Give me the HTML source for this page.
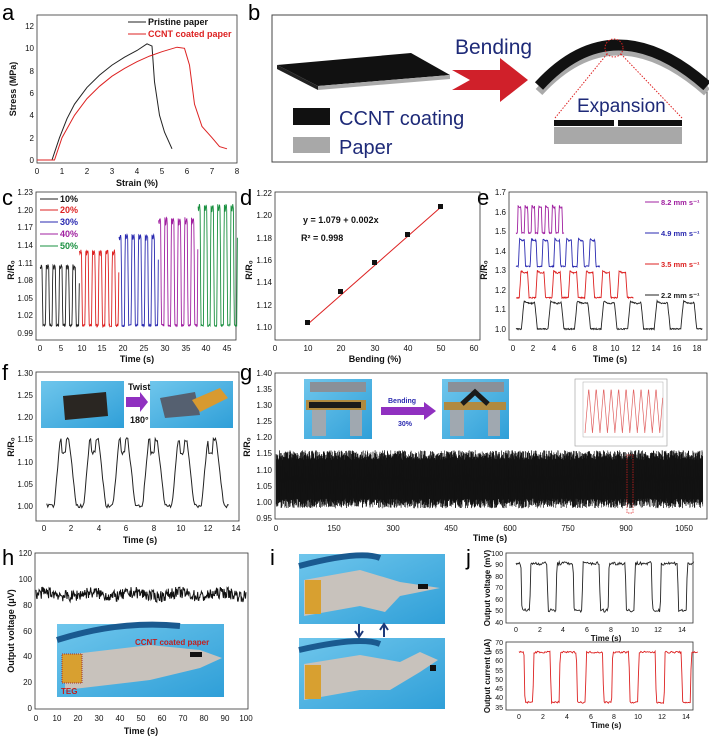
<!DOCTYPE html>
<html><head><meta charset="utf-8"><style>
html,body{margin:0;padding:0;background:#fff}
svg{display:block;font-family:"Liberation Sans",sans-serif}
.t{font-size:8px;fill:#111}
.al{font-size:9px;font-weight:bold;fill:#111}
.pl{font-size:22px;fill:#000}
.fr{fill:none;stroke:#333;stroke-width:0.8}
</style></head><body>
<svg id="s" width="709" height="738" viewBox="0 0 709 738" xmlns="http://www.w3.org/2000/svg">
<rect width="709" height="738" fill="#fff"/>
<text class="pl" x="2" y="20">a</text>
<text class="pl" x="248" y="20">b</text>
<text class="pl" x="2" y="205">c</text>
<text class="pl" x="240" y="205">d</text>
<text class="pl" x="477" y="205">e</text>
<text class="pl" x="2" y="380">f</text>
<text class="pl" x="240" y="380">g</text>
<text class="pl" x="2" y="565">h</text>
<text class="pl" x="270" y="565">i</text>
<text class="pl" x="466" y="565">j</text>

<!-- a -->
<rect class="fr" x="37" y="15" width="200" height="148"/>
<g class="t" text-anchor="end">
<text x="34" y="163">0</text><text x="34" y="141">2</text><text x="34" y="118">4</text><text x="34" y="96">6</text><text x="34" y="74">8</text><text x="34" y="51">10</text><text x="34" y="29">12</text></g>
<g class="t" text-anchor="middle">
<text x="37" y="174">0</text><text x="62" y="174">1</text><text x="87" y="174">2</text><text x="112" y="174">3</text><text x="137" y="174">4</text><text x="162" y="174">5</text><text x="187" y="174">6</text><text x="212" y="174">7</text><text x="237" y="174">8</text></g>
<text class="al" x="137" y="186" text-anchor="middle">Strain (%)</text>
<text class="al" transform="translate(16,89) rotate(-90)" text-anchor="middle">Stress (MPa)</text>
<line x1="128" y1="22" x2="146" y2="22" stroke="#222"/><text class="al" x="148" y="25">Pristine paper</text>
<line x1="128" y1="34" x2="146" y2="34" stroke="#d22"/><text class="al" x="148" y="37" style="fill:#d22">CCNT coated paper</text>
<path id="pa1" fill="none" stroke="#222" stroke-width="1"/>
<path id="pa2" fill="none" stroke="#d22" stroke-width="1"/>

<!-- b -->
<rect x="272" y="15" width="435" height="147" fill="#fff" stroke="#444" stroke-width="1"/>
<polygon points="277,65 411,53 450,75 318,86" fill="#111"/>
<polygon points="277,65 318,86 318,90 277,69" fill="#222"/>
<polygon points="318,86 450,75 450,79 318,90" fill="#aaa"/>
<polygon points="452,70 500,70 500,58 528,80 500,102 500,90 452,90 470,80" fill="#d0202a"/>
<text x="455" y="54" style="font-size:21px;fill:#1e2a78">Bending</text>
<path d="M539,92 Q614,10 707,92" fill="none" stroke="#aaa" stroke-width="9"/>
<path d="M539,86 Q614,4 707,86" fill="none" stroke="#111" stroke-width="11"/>
<circle cx="614" cy="48" r="9" fill="none" stroke="#d22" stroke-dasharray="1.5,1.5"/>
<line x1="607" y1="54" x2="555" y2="118" stroke="#d22" stroke-dasharray="1.5,1.5"/>
<line x1="621" y1="54" x2="682" y2="118" stroke="#d22" stroke-dasharray="1.5,1.5"/>
<text x="577" y="112" style="font-size:19px;fill:#1e2a78">Expansion</text>
<rect x="554" y="120" width="60" height="6" fill="#111"/><rect x="618" y="120" width="64" height="6" fill="#111"/>
<rect x="554" y="127" width="128" height="17" fill="#a8a8a8"/>
<rect x="293" y="108" width="37" height="17" fill="#111"/>
<text x="339" y="125" style="font-size:20px;fill:#1e2a78">CCNT coating</text>
<rect x="293" y="137" width="37" height="16" fill="#a8a8a8"/>
<text x="339" y="154" style="font-size:20px;fill:#1e2a78">Paper</text>

<!-- c -->
<rect class="fr" x="36" y="192" width="200" height="148"/>
<g class="t" text-anchor="end">
<text x="33" y="195">1.23</text><text x="33" y="213">1.20</text><text x="33" y="230">1.17</text><text x="33" y="248">1.14</text><text x="33" y="266">1.11</text><text x="33" y="283">1.08</text><text x="33" y="301">1.05</text><text x="33" y="318">1.02</text><text x="33" y="336">0.99</text></g>
<g class="t" text-anchor="middle">
<text x="40" y="351">0</text><text x="61" y="351">5</text><text x="82" y="351">10</text><text x="102" y="351">15</text><text x="123" y="351">20</text><text x="144" y="351">25</text><text x="165" y="351">30</text><text x="186" y="351">35</text><text x="206" y="351">40</text><text x="227" y="351">45</text></g>
<text class="al" x="137" y="362" text-anchor="middle">Time (s)</text>
<text class="al" transform="translate(14,270) rotate(-90)" text-anchor="middle">R/R₀</text>
<g class="al"><line x1="40" y1="199" x2="58" y2="199" stroke="#222"/><text x="60" y="202">10%</text>
<line x1="40" y1="210" x2="58" y2="210" stroke="#d22"/><text x="60" y="213" style="fill:#d22">20%</text>
<line x1="40" y1="222" x2="58" y2="222" stroke="#2a2ab0"/><text x="60" y="225" style="fill:#2a2ab0">30%</text>
<line x1="40" y1="234" x2="58" y2="234" stroke="#a020a0"/><text x="60" y="237" style="fill:#a020a0">40%</text>
<line x1="40" y1="246" x2="58" y2="246" stroke="#1a9040"/><text x="60" y="249" style="fill:#1a9040">50%</text></g>
<g id="gc"></g>

<!-- d -->
<rect class="fr" x="275" y="192" width="205" height="148"/>
<g class="t" text-anchor="end">
<text x="272" y="196">1.22</text><text x="272" y="218">1.20</text><text x="272" y="241">1.18</text><text x="272" y="263">1.16</text><text x="272" y="285">1.14</text><text x="272" y="308">1.12</text><text x="272" y="330">1.10</text></g>
<g class="t" text-anchor="middle">
<text x="275" y="351">0</text><text x="308" y="351">10</text><text x="341" y="351">20</text><text x="375" y="351">30</text><text x="408" y="351">40</text><text x="441" y="351">50</text><text x="474" y="351">60</text></g>
<text class="al" x="375" y="362" text-anchor="middle">Bending (%)</text>
<text class="al" transform="translate(252,270) rotate(-90)" text-anchor="middle">R/R₀</text>
<text class="al" x="303" y="223">y = 1.079 + 0.002x</text>
<text class="al" x="301" y="241">R² = 0.998</text>
<line x1="308" y1="324" x2="441" y2="207" stroke="#d22" stroke-width="1"/>
<g fill="#111"><rect x="305" y="320" width="5" height="5"/><rect x="338" y="289" width="5" height="5"/><rect x="372" y="260" width="5" height="5"/><rect x="405" y="232" width="5" height="5"/><rect x="438" y="204" width="5" height="5"/></g>

<!-- e -->
<rect class="fr" x="509" y="192" width="198" height="148"/>
<g class="t" text-anchor="end">
<text x="506" y="195">1.7</text><text x="506" y="215">1.6</text><text x="506" y="234">1.5</text><text x="506" y="254">1.4</text><text x="506" y="273">1.3</text><text x="506" y="293">1.2</text><text x="506" y="312">1.1</text><text x="506" y="332">1.0</text></g>
<g class="t" text-anchor="middle">
<text x="513" y="351">0</text><text x="533" y="351">2</text><text x="554" y="351">4</text><text x="574" y="351">6</text><text x="595" y="351">8</text><text x="615" y="351">10</text><text x="636" y="351">12</text><text x="656" y="351">14</text><text x="677" y="351">16</text><text x="697" y="351">18</text></g>
<text class="al" x="610" y="362" text-anchor="middle">Time (s)</text>
<text class="al" transform="translate(487,270) rotate(-90)" text-anchor="middle">R/R₀</text>
<g class="al" style="font-size:7.5px"><line x1="645" y1="202" x2="659" y2="202" stroke="#a020a0"/><text x="661" y="205" style="fill:#a020a0">8.2 mm s⁻¹</text>
<line x1="645" y1="233" x2="659" y2="233" stroke="#2a2ab0"/><text x="661" y="236" style="fill:#2a2ab0">4.9 mm s⁻¹</text>
<line x1="645" y1="264" x2="659" y2="264" stroke="#d22"/><text x="661" y="267" style="fill:#d22">3.5 mm s⁻¹</text>
<line x1="645" y1="295" x2="659" y2="295" stroke="#222"/><text x="661" y="298" style="fill:#222">2.2 mm s⁻¹</text></g>
<g id="ge"></g>

<!-- f -->
<rect class="fr" x="36" y="372" width="203" height="149"/>
<g class="t" text-anchor="end">
<text x="33" y="376">1.30</text><text x="33" y="398">1.25</text><text x="33" y="420">1.20</text><text x="33" y="442">1.15</text><text x="33" y="465">1.10</text><text x="33" y="487">1.05</text><text x="33" y="509">1.00</text></g>
<g class="t" text-anchor="middle">
<text x="44" y="531">0</text><text x="71" y="531">2</text><text x="99" y="531">4</text><text x="126" y="531">6</text><text x="154" y="531">8</text><text x="181" y="531">10</text><text x="208" y="531">12</text><text x="236" y="531">14</text></g>
<text class="al" x="140" y="543" text-anchor="middle">Time (s)</text>
<text class="al" transform="translate(14,447) rotate(-90)" text-anchor="middle">R/R₀</text>
<defs><linearGradient id="bl" x1="0" y1="0" x2="1" y2="1"><stop offset="0" stop-color="#6fc6ec"/><stop offset="1" stop-color="#2f9fd8"/></linearGradient></defs>
<rect x="41" y="381" width="83" height="47" fill="url(#bl)"/>
<polygon points="63,396 106,392 108,416 65,420" fill="#2a2622"/>
<rect x="150" y="381" width="83" height="47" fill="url(#bl)"/>
<polygon points="160,398 195,392 200,415 165,418" fill="#556070"/>
<polygon points="192,400 220,388 228,398 200,412" fill="#d89a30"/>
<polygon points="126,397 140,397 140,392 148,402 140,412 140,407 126,407" fill="#9030c0"/>
<text class="al" x="128" y="390">Twist</text>
<text class="al" x="130" y="423">180°</text>
<path id="pf" fill="none" stroke="#222" stroke-width="1"/>

<!-- g -->
<rect class="fr" x="275" y="373" width="432" height="146"/>
<g class="t" text-anchor="end">
<text x="272" y="376">1.40</text><text x="272" y="392">1.35</text><text x="272" y="408">1.30</text><text x="272" y="424">1.25</text><text x="272" y="440">1.20</text><text x="272" y="456">1.15</text><text x="272" y="473">1.10</text><text x="272" y="489">1.05</text><text x="272" y="505">1.00</text><text x="272" y="521">0.95</text></g>
<g class="t" text-anchor="middle">
<text x="276" y="531">0</text><text x="334" y="531">150</text><text x="393" y="531">300</text><text x="451" y="531">450</text><text x="510" y="531">600</text><text x="568" y="531">750</text><text x="626" y="531">900</text><text x="684" y="531">1050</text></g>
<text class="al" x="490" y="541" text-anchor="middle">Time (s)</text>
<text class="al" transform="translate(250,447) rotate(-90)" text-anchor="middle">R/R₀</text>
<rect x="304" y="379" width="68" height="60" fill="url(#bl)"/>
<rect x="310" y="382" width="56" height="10" fill="#8a9098"/><rect x="306" y="400" width="60" height="10" fill="#b08a40"/><rect x="309" y="402" width="52" height="6" fill="#1a1a1a"/><rect x="312" y="410" width="14" height="26" fill="#a0a8b0"/><rect x="350" y="410" width="12" height="26" fill="#a0a8b0"/>
<rect x="442" y="379" width="67" height="60" fill="url(#bl)"/>
<rect x="448" y="382" width="56" height="10" fill="#8a9098"/><rect x="444" y="402" width="62" height="8" fill="#b08a40"/><path d="M462,404 L475,392 L488,404" stroke="#1a1a1a" stroke-width="5" fill="none"/><rect x="450" y="410" width="14" height="26" fill="#a0a8b0"/><rect x="488" y="410" width="12" height="26" fill="#a0a8b0"/>
<polygon points="381,407 424,407 424,402 436,411 424,420 424,415 381,415" fill="#9030c0"/>
<text class="al" x="388" y="403" style="fill:#2a2ab0;font-size:7px">Bending</text>
<text class="al" x="398" y="426" style="fill:#2a2ab0;font-size:7px">30%</text>
<rect x="575" y="379" width="92" height="67" fill="#fff" stroke="#999" stroke-width="0.6"/>
<rect x="583" y="382" width="80" height="55" fill="none" stroke="#aaa" stroke-width="0.5"/>
<path id="gin" fill="none" stroke="#e06060" stroke-width="0.7"/>
<path id="pg" fill="none" stroke="#111" stroke-width="0.5"/>
<rect x="627" y="455" width="6" height="58" fill="none" stroke="#d22" stroke-width="0.7" stroke-dasharray="1.5,1"/>

<!-- h -->
<rect class="fr" x="35" y="553" width="213" height="156"/>
<g class="t" text-anchor="end">
<text x="32" y="711">0</text><text x="32" y="685">20</text><text x="32" y="659">40</text><text x="32" y="634">60</text><text x="32" y="608">80</text><text x="32" y="582">100</text><text x="32" y="556">120</text></g>
<g class="t" text-anchor="middle">
<text x="36" y="721">0</text><text x="57" y="721">10</text><text x="78" y="721">20</text><text x="99" y="721">30</text><text x="120" y="721">40</text><text x="141" y="721">50</text><text x="162" y="721">60</text><text x="183" y="721">70</text><text x="204" y="721">80</text><text x="225" y="721">90</text><text x="246" y="721">100</text></g>
<text class="al" x="141" y="734" text-anchor="middle">Time (s)</text>
<text class="al" transform="translate(14,631) rotate(-90)" text-anchor="middle">Output voltage (μV)</text>
<path id="ph" fill="none" stroke="#111" stroke-width="1"/>
<rect x="57" y="624" width="167" height="73" fill="url(#bl)"/>
<path d="M57,640 Q120,620 180,626" stroke="#1a5a90" stroke-width="6" fill="none"/>
<path d="M65,655 L150,645 L200,650 L222,658 L200,668 L150,680 L65,690 Z" fill="#c8c2bc"/>
<rect x="62" y="654" width="20" height="29" fill="#d8a030" stroke="#a03030" stroke-dasharray="1,1"/>
<rect x="190" y="652" width="12" height="5" fill="#111"/>
<text x="135" y="645" style="font-size:8px;font-weight:bold;fill:#c02020">CCNT coated paper</text>
<text x="61" y="694" style="font-size:8px;font-weight:bold;fill:#c02020">TEG</text>

<!-- i -->
<rect x="299" y="554" width="146" height="70" fill="url(#bl)"/>
<path d="M299,566 Q360,550 380,558" stroke="#1a5a90" stroke-width="6" fill="none"/>
<path d="M304,580 L360,570 L400,582 L440,588 L400,596 L385,612 L360,606 L304,616 Z" fill="#c8c2bc"/>
<rect x="305" y="580" width="16" height="34" fill="#d8a030"/>
<rect x="418" y="584" width="10" height="5" fill="#111"/>
<rect x="299" y="638" width="146" height="71" fill="url(#bl)"/>
<path d="M299,650 Q360,636 380,644" stroke="#1a5a90" stroke-width="6" fill="none"/>
<path d="M304,664 L360,655 L400,662 L420,652 L438,660 L420,672 L390,690 L360,690 L304,700 Z" fill="#c8c2bc"/>
<rect x="305" y="665" width="16" height="34" fill="#d8a030"/>
<rect x="430" y="665" width="6" height="6" fill="#111"/>
<path d="M359,624 L359,636 M355,631 L359,637 L363,631" stroke="#1e3a7a" stroke-width="2" fill="none"/>
<path d="M384,637 L384,625 M380,630 L384,624 L388,630" stroke="#1e3a7a" stroke-width="2" fill="none"/>

<!-- j -->
<rect class="fr" x="506" y="553" width="187" height="70"/>
<g class="t" text-anchor="end" style="font-size:7px">
<text x="503" y="556">100</text><text x="503" y="567">90</text><text x="503" y="579">80</text><text x="503" y="590">70</text><text x="503" y="602">60</text><text x="503" y="613">50</text><text x="503" y="625">40</text></g>
<g class="t" text-anchor="middle" style="font-size:7px">
<text x="516" y="632">0</text><text x="540" y="632">2</text><text x="563" y="632">4</text><text x="587" y="632">6</text><text x="611" y="632">8</text><text x="635" y="632">10</text><text x="658" y="632">12</text><text x="682" y="632">14</text></g>
<text class="al" x="606" y="641" text-anchor="middle" style="font-size:8px">Time (s)</text>
<text class="al" transform="translate(490,588) rotate(-90)" text-anchor="middle" style="font-size:8px">Output voltage (mV)</text>
<path id="pj1" fill="none" stroke="#222" stroke-width="0.9"/>
<rect class="fr" x="506" y="642" width="187" height="68"/>
<g class="t" text-anchor="end" style="font-size:7px">
<text x="503" y="645">70</text><text x="503" y="654">65</text><text x="503" y="663">60</text><text x="503" y="673">55</text><text x="503" y="682">50</text><text x="503" y="691">45</text><text x="503" y="700">40</text><text x="503" y="710">35</text></g>
<g class="t" text-anchor="middle" style="font-size:7px">
<text x="519" y="719">0</text><text x="543" y="719">2</text><text x="567" y="719">4</text><text x="591" y="719">6</text><text x="614" y="719">8</text><text x="638" y="719">10</text><text x="662" y="719">12</text><text x="686" y="719">14</text></g>
<text class="al" x="606" y="728" text-anchor="middle" style="font-size:8px">Time (s)</text>
<text class="al" transform="translate(490,676) rotate(-90)" text-anchor="middle" style="font-size:8px">Output current (μA)</text>
<path id="pj2" fill="none" stroke="#d22" stroke-width="0.9"/>
</svg>
<script>
var seed=7;function rnd(){seed=(seed*16807)%2147483647;return seed/2147483647;}
function P(pts){return pts.map(function(p,i){return (i?'L':'M')+p[0].toFixed(1)+','+p[1].toFixed(1)}).join('');}
function $(i){return document.getElementById(i);}
function sq(p,r){if(p<r)return p/r; if(p<0.5)return 1; if(p<0.5+r)return 1-(p-0.5)/r; return 0;}
function la(arr){return P(arr.map(function(a){return[37+a[0]*25,160-a[1]*11.17]}));}
$('pa1').setAttribute('d',la([[0,0],[0.6,0],[0.9,2],[1.2,3.7],[1.5,5],[2,6.5],[2.5,7.6],[3,8.5],[3.5,9.2],[4,9.8],[4.4,10.4],[4.6,10.2],[4.7,7],[4.9,4],[5.1,2.5],[5.4,1]]));
$('pa2').setAttribute('d',la([[0,0],[0.7,0],[1,2],[1.5,4],[2,5.5],[2.5,6.6],[3,7.5],[3.5,8.2],[4,8.8],[4.5,9.3],[5,9.7],[5.6,10.1],[5.9,10],[6.1,8.5],[6.3,5],[6.6,3],[7,2],[7.3,1.2],[7.6,1]]));
var cols=['#222','#d22','#2a2ab0','#a020a0','#1a9040'],peaks=[1.105,1.13,1.157,1.185,1.208],gc='';
for(var s=0;s<5;s++){var pts=[],t0=s*9.5,t1=t0+9.5;for(var t=t0;t<=t1;t+=0.08){var p=((t-t0+0.3)%1.6)/1.6;var v=sq(p,0.12);var r=1.003+(peaks[s]-1.003)*v*(0.93+0.07*Math.abs(Math.sin(p*12)))+(rnd()-0.5)*0.004;pts.push([40+t*4.16,192+(1.23-r)*587.5]);}
gc+='<path d="'+P(pts)+'" fill="none" stroke="'+cols[s]+'" stroke-width="0.9"/>';}
$('gc').innerHTML=gc;
var es=[['#a020a0',0.3,5,0.67,1.49,1.635],['#2a2ab0',0.3,8.5,1.15,1.32,1.465],['#d22',0.3,11.8,1.6,1.16,1.30],['#222',0.3,18.5,2.6,1.0,1.145]],ge='';
es.forEach(function(e){var pts=[];for(var t=e[1];t<=e[2];t+=0.04){var p=((t-e[1]+e[3]*0.8)%e[3])/e[3];var v=sq(p,0.1);var r=e[4]+(e[5]-e[4])*v*(0.95+0.05*Math.cos(p*9))+(rnd()-0.5)*0.006;pts.push([513+t*10.22,192+(1.7-r)*195.7]);}ge+='<path d="'+P(pts)+'" fill="none" stroke="'+e[0]+'" stroke-width="0.9"/>';});
$('ge').innerHTML=ge;
var pts=[];for(var t=0.2;t<=13.5;t+=0.08){var p=((t-0.2+1.6)%2.15)/2.15;var v=p<0.2?p/0.2:(p<0.5?1:(p<0.75?1-(p-0.5)/0.25:0));var r=1.0+0.15*v-(p>0.25&&p<0.4?0.03:0)+(rnd()-0.5)*0.008;pts.push([44+t*13.7,373+(1.3-r)*443]);}
$('pf').setAttribute('d',P(pts));
pts=[];for(var x=276;x<=703;x+=0.35){var hi=1.16-rnd()*0.03,lo=0.98+rnd()*0.03;pts.push([x,373+(1.4-hi)*322]);pts.push([x+0.17,373+(1.4-lo)*322]);}
$('pg').setAttribute('d',P(pts));
pts=[];for(var t=0;t<=12;t+=0.05){var p=(t%1.15)/1.15;var v=p<0.5?p/0.5:1-(p-0.5)/0.5;pts.push([585+t*6.5,433-v*45]);}
$('gin').setAttribute('d',P(pts));
pts=[];for(var t=0;t<=100;t+=0.25){var v=88+Math.sin(t*0.3)*1.5+(rnd()-0.5)*9;pts.push([36+t*2.1,708-v*1.29]);}
$('ph').setAttribute('d',P(pts));
function jw(id,x0,sx,y0,top,sy,hi,lo,noise){var pts=[];for(var t=0;t<=15;t+=0.07){var p=((t+0.95)%2.2)/2.2;var v=p<0.62?1:(p<0.66?1-(p-0.62)/0.04:(p<0.96?0:(p-0.96)/0.04));var r=lo+(hi-lo)*v+(rnd()-0.5)*noise;pts.push([x0+t*sx,y0+(top-r)*sy]);}$(id).setAttribute('d',P(pts));}
jw('pj1',516,11.86,553,100,1.15,91,50,3);
jw('pj2',519,11.93,642,70,1.857,64.5,37.5,1);
</script>
</body></html>
